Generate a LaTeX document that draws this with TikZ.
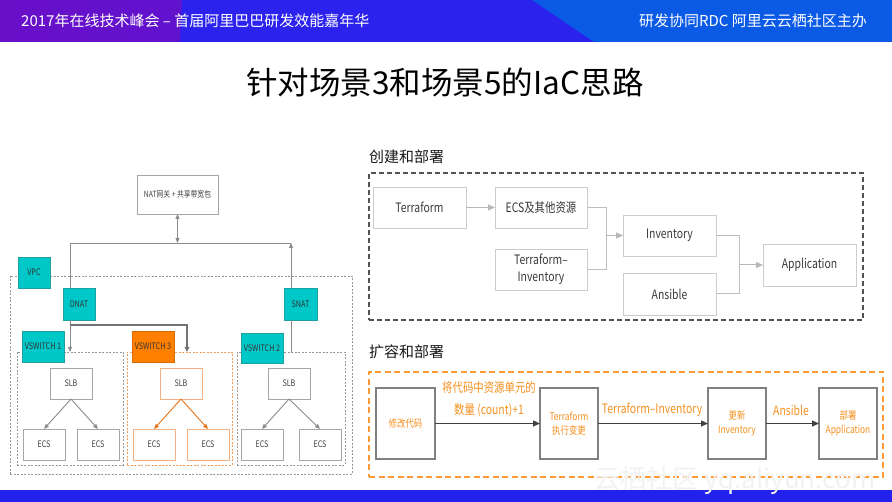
\documentclass[tikz,border=0pt]{standalone}
\usepackage{fontspec}
\setmainfont{Noto Sans CJK SC}
\newfontfamily\dg[FakeStretch=0.8]{Noto Sans CJK SC}
\usetikzlibrary{arrows.meta,calc}
\newcommand{\fsz}[1]{\fontsize{#1}{#1}\selectfont}
\definecolor{cyanf}{HTML}{00C8C8}
\definecolor{cyanb}{HTML}{1FA0A0}
\definecolor{vorange}{HTML}{FF7F00}
\definecolor{lorange}{HTML}{F4B183}
\definecolor{oarrow}{HTML}{E5751A}
\definecolor{odash}{HTML}{F5A05A}
\definecolor{otext}{HTML}{F5901E}
\definecolor{bdash}{HTML}{FF9933}
\definecolor{hpurple}{HTML}{6A0FC8}
\definecolor{hblue}{HTML}{2B22EE}
\definecolor{hlight}{HTML}{0A5AE6}
\definecolor{fblue}{HTML}{2222EC}
\begin{document}
\begin{tikzpicture}[x=1pt,y=-1pt,
  gbox/.style={draw=black!35, line width=0.8pt, fill=white, inner sep=0pt, outer sep=0pt,
    font=\dg\fsz{9}, text=black!75, minimum width=42pt, minimum height=31pt},
  obox/.style={gbox, draw=lorange},
  cbox/.style={draw=cyanb, line width=0.5pt, fill=cyanf, inner sep=0pt, outer sep=0pt,
    font=\dg\fsz{9}, text=black!80, minimum width=42pt, minimum height=31pt},
  vobox/.style={cbox, draw=vorange!85!black, fill=vorange},
  region/.style={draw=black!40, dash pattern=on 2pt off 1.5pt, line width=0.7pt, inner sep=0pt, outer sep=0pt},
  oregion/.style={region, draw=odash},
  lline/.style={draw=black!45, line width=0.9pt},
  larrow/.style={lline, -{Triangle[length=5pt,width=4pt]}},
  dline/.style={draw=black!55, line width=1.3pt},
  darrow/.style={dline, -{Triangle[length=5pt,width=4.5pt]}},
  oarr/.style={draw=oarrow, line width=0.9pt, -{Triangle[length=5pt,width=4pt]}},
  rbox/.style={draw=black!20, line width=0.9pt, fill=white, inner sep=0pt, outer sep=0pt,
    font=\dg\fsz{13}, text=black!78, minimum width=92pt, minimum height=41pt, align=center},
  rline/.style={draw=black!25, line width=1pt},
  rarrow/.style={rline, -{Triangle[length=7pt,width=6pt]}, draw=black!28},
  bbox/.style={draw=black!50, line width=1.1pt, fill=white, inner sep=0pt, outer sep=0pt,
    font=\dg\fsz{10.5}, text=otext, minimum width=58pt, minimum height=71pt, align=center},
  barrow/.style={draw=black!75, line width=1.1pt, -{Triangle[length=7pt,width=6pt]}},
  blabel/.style={font=\dg\fsz{13}, text=otext, align=center, inner sep=0pt},
  heading/.style={font=\fsz{15}, text=black!90, anchor=west, inner sep=0pt}
]
\useasboundingbox (0,0) rectangle (892,502);
\fill[white] (0,0) rectangle (892,502);
% header
\fill[hblue] (0,0) rectangle (892,42);
\shade[left color=hpurple, right color=hpurple!85!hblue] (0,0) -- (182,0) -- (180,42) -- (0,42) -- cycle;
\fill[hlight] (532,0) -- (892,0) -- (892,42) -- (594,42) -- cycle;
\node[text=white, font=\fsz{15}, anchor=west, inner sep=0pt] (hl) at (21,21) {2017年在线技术峰会 – 首届阿里巴巴研发效能嘉年华};
\node[text=white, font=\fsz{15}, anchor=east, inner sep=0pt] (hr) at (867,21) {研发协同RDC 阿里云云栖社区主办};
% footer
\fill[fblue] (0,490) rectangle (892,502);
% title
\node[font=\fsz{31.5}, text=black, inner sep=0pt] (title) at (445,82) {针对场景3和场景5的IaC思路};

% ===== left diagram =====
\node[region, minimum width=342pt, minimum height=198pt] (vpcr) at (181,375) {};
\node[region, minimum width=106pt, minimum height=113pt] (r1) at (70,408.5) {};
\node[oregion, minimum width=105pt, minimum height=113pt] (r3) at (179.5,408.5) {};
\node[region, minimum width=108pt, minimum height=113pt] (r2) at (291,408.5) {};

\node[gbox, minimum width=81pt, minimum height=39pt, font=\dg\fsz{8.5}] (nat) at (177.5,194.5) {NAT网关 + 共享带宽包};
\node[cbox, minimum width=32pt, minimum height=31pt] (vpc) at (34,272.5) {VPC};
\node[cbox, minimum width=32pt, minimum height=32pt] (dnat) at (79,304) {DNAT};
\node[cbox, minimum width=33pt, minimum height=32pt] (snat) at (300.5,304) {SNAT};

\coordinate (dT) at ($(dnat.north west)+(7,0)$);
\coordinate (dB) at ($(dnat.south west)+(7,0)$);
\coordinate (sT) at ($(snat.north west)+(7,0)$);
\coordinate (sB) at ($(snat.south west)+(7,0)$);
\coordinate (hL) at (70,243);
\coordinate (hR) at (291,243);
\coordinate (hM) at (177.5,243);
\coordinate (v1T) at (70,352);
\coordinate (v3T) at (187,352);
\coordinate (v2T) at (291,352);
\coordinate (dJ) at (70,325);

\draw[lline] (dT) -- (hL) -- (hR);
\draw[larrow] (sT) -- (hR);
\draw[lline, {Triangle[length=5pt,width=4pt]}-{Triangle[length=5pt,width=4pt]}] (nat.south) -- (hM);
\draw[larrow] (dB) -- (v1T);
\draw[darrow] (dJ) -| (v3T);
\draw[lline] (sB) -- (v2T);

\node[cbox] (vs1) at (43,346.5) {VSWITCH 1};
\node[vobox] (vs3) at (153,346.5) {VSWITCH 3};
\node[cbox, minimum height=30pt] (vs2) at (262,348) {VSWITCH 2};

\node[gbox] (slb1) at (71,383.5) {SLB};
\node[obox] (slb3) at (181,383.5) {SLB};
\node[gbox] (slb2) at (289,383.5) {SLB};
\node[gbox] (e1) at (44,444.5) {ECS};
\node[gbox] (e2) at (98,444.5) {ECS};
\node[obox] (e3) at (154,444.5) {ECS};
\node[obox] (e4) at (208,444.5) {ECS};
\node[gbox] (e5) at (262,444.5) {ECS};
\node[gbox] (e6) at (320,444.5) {ECS};
\draw[larrow] (slb1.south) -- (e1.north);
\draw[larrow] (slb1.south) -- (e2.north);
\draw[oarr] (slb3.south) -- (e3.north);
\draw[oarr] (slb3.south) -- (e4.north);
\draw[larrow] (slb2.south) -- (e5.north);
\draw[larrow] (slb2.south) -- (e6.north);

% ===== right top =====
\node[heading] (h1) at (369,157) {创建和部署};
\node[draw=black!68, line width=1.4pt, dash pattern=on 5pt off 3pt, minimum width=494pt, minimum height=147pt, inner sep=0pt] (box1) at (616,246.5) {};
\node[rbox, minimum width=93pt] (tf) at (419.5,207.5) {Terraform};
\node[rbox] (ecsr) at (541,207.5) {ECS及其他资源};
\node[rbox] (tfi) at (541,269.5) {Terraform–\\[4pt]Inventory};
\node[rbox, minimum width=93pt] (inv) at (669.5,235.5) {Inventory};
\node[rbox, minimum width=93pt, minimum height=42pt] (ans) at (669.5,294) {Ansible};
\node[rbox, minimum width=93pt, minimum height=42pt] (app) at (809.5,265) {Application};
\coordinate (j1) at (606,235.5);
\coordinate (j2) at (739,265);
\draw[rarrow] (tf) -- (ecsr);
\draw[rline] (ecsr.east) -| (j1);
\draw[rline] (tfi.east) -| (j1);
\draw[rarrow] (j1) -- (inv.west);
\draw[rline] (inv.east) -| (j2);
\draw[rline] (ans.east) -| (j2);
\draw[rarrow] (j2) -- (app.west);

% ===== right bottom =====
\node[heading] (h2) at (369,352) {扩容和部署};
\node[draw=bdash, line width=1.6pt, dash pattern=on 6pt off 3.5pt, minimum width=514pt, minimum height=105pt, inner sep=0pt] (box2) at (626,424.5) {};
\node[bbox, minimum width=59pt] (mod) at (405.5,423.5) {修改代码};
\node[bbox] (tfe) at (569,423.5) {Terraform\\[3pt]执行变更};
\node[bbox] (upd) at (737,423.5) {更新\\[3pt]Inventory};
\node[bbox] (dep) at (848,423.5) {部署\\[3pt]Application};
\draw[barrow] (mod) -- (tfe);
\draw[barrow] (tfe) -- (upd);
\draw[barrow] (upd) -- (dep);
\node[blabel] (l1) at (489,399) {将代码中资源单元的\\[9pt]数量 (count)+1};
\node[blabel] (l2) at (652,410) {Terraform–Inventory};
\node[blabel] (l3) at (791,410) {Ansible};

% watermark
\node[text=black!5, font=\fsz{26}, inner sep=0pt] (wm) at (735,481) {云栖社区 yq.aliyun.com};
\end{tikzpicture}
\end{document}
